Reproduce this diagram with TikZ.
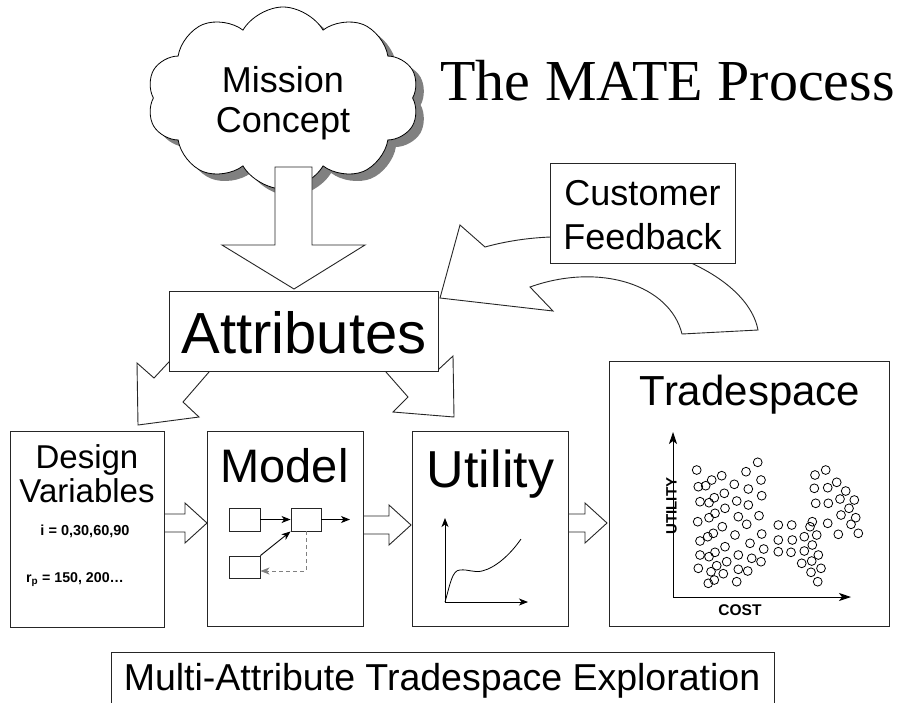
\documentclass[tikz,border=0pt]{standalone}
\usepackage{fontspec}
\setmainfont{Liberation Sans}
\newfontfamily\titlefont{Liberation Serif}
\usetikzlibrary{shapes.symbols,arrows.meta}
\newcommand\HArrow[3]{\draw[blockarrow] (#1,#3-9) -- (#2-22,#3-9) -- (#2-22,#3-20) -- (#2,#3) -- (#2-22,#3+20) -- (#2-22,#3+9) -- (#1,#3+9) -- cycle;}
\newcommand\fs[1]{\fontsize{#1}{#1}\selectfont}
\begin{document}
\begin{tikzpicture}[x=1pt,y=-1pt,
  line width=0.9pt,
  boxstyle/.style={draw=black!85, fill=white, line width=0.9pt, inner sep=0pt},
  txt/.style={inner sep=0pt, anchor=base},
  blockarrow/.style={draw=black!85, fill=white, line width=0.9pt, line join=miter},
  tip/.style={-{Stealth[length=9pt,width=7pt,inset=2.5pt]}},
  bigtip/.style={-{Stealth[length=12pt,width=8pt,inset=3pt]}},
  dot/.style={circle, draw=black, line width=0.8pt, minimum size=8.8pt, inner sep=0pt}
]
\useasboundingbox (0,0) rectangle (904,702);
\fill[white] (0,0) rectangle (904,702);

% cloud
\node[cloud, cloud puffs=10, cloud puff arc=120, aspect=1.5, minimum width=272pt, minimum height=182pt, fill=black!50, draw=none] (cloudshadow) at (291,105) {};
\node[cloud, cloud puffs=10, cloud puff arc=120, aspect=1.5, minimum width=272pt, minimum height=182pt, fill=white, draw=black, line width=0.8pt] (cloud) at (283,98) {};
\node[txt, font=\fs{36}] (mission1) at (283,92) {Mission};
\node[txt, font=\fs{36}] (mission2) at (283,132) {Concept};

% title
\node[inner sep=0pt, anchor=base west, font=\titlefont\fs{58}] (title) at (440,100) {The MATE Process};

% down arrow from cloud to attributes
\draw[blockarrow] (275,167) -- (275,245) -- (222,245) -- (294,289) -- (365,245) -- (312,245) -- (312,167) -- cycle;

% feedback arrow
\draw[blockarrow] (758,330) .. controls (745,262) and (600,215) .. (485,247) -- (460,225) -- (440,298) -- (553,311) -- (530,287) .. controls (600,262) and (670,285) .. (682,334) -- cycle;

% attribute arrows
\draw[blockarrow] (181,349) -- (154,378) -- (137,363) -- (138,425) -- (199,417) -- (183,402) -- (224.6,354) -- cycle;
\draw[blockarrow] (375,359.5) -- (408,397) -- (393,412) -- (454,417) -- (453,356) -- (439,369) -- (428,356.5) -- cycle;

% block arrows between boxes
\HArrow{160}{207}{523}
\HArrow{359}{411}{525}
\HArrow{564}{607}{523}

% boxes
\node[boxstyle, minimum width=185pt, minimum height=100pt] (cust) at (642.5,213) {};
\node[txt, font=\fs{36}] (cust1) at (642.5,205) {Customer};
\node[txt, font=\fs{36}] (cust2) at (642.5,249) {Feedback};

\node[boxstyle, minimum width=269pt, minimum height=80pt] (attr) at (303.5,331) {};
\node[txt, font=\fs{58}] (attrtxt) at (304,353) {Attributes};

\node[boxstyle, minimum width=154pt, minimum height=196pt] (dv) at (87,529) {};
\node[txt, font=\fs{33}] (dv1) at (87,468) {Design};
\node[txt, font=\fs{33}] (dv2) at (87,502) {Variables};
\node[txt, font=\bfseries\fs{14.5}] (dv3) at (85,535) {i = 0,30,60,90};
\node[txt, font=\bfseries\fs{14.2}] (dv4) at (75,582) {r\textsubscript{p} = 150, 200…};

\node[boxstyle, minimum width=156pt, minimum height=195pt] (model) at (285,528.5) {};
\node[txt, font=\fs{47}] (modeltxt) at (284.5,482) {Model};
\node[boxstyle, minimum width=31pt, minimum height=23pt] (mb1) at (244.5,519.5) {};
\node[boxstyle, minimum width=30pt, minimum height=23pt] (mb2) at (306,519.5) {};
\node[boxstyle, minimum width=31pt, minimum height=22pt] (mb3) at (244.5,567) {};
\coordinate (mout) at (350,519.5);
\draw[tip] (mb1.east) -- (mb2.west);
\draw[tip] (mb2.east) -- (mout);
\draw[tip] (mb3.north east) -- (mb2.south west);
\draw[tip, black!50, dash pattern=on 4pt off 3pt] (mb2.south) |- ([yshift=-4pt]mb3.east);

\node[boxstyle, minimum width=156pt, minimum height=195pt] (util) at (490,528.5) {};
\node[txt, font=\fs{52}] (utiltxt) at (490.5,487) {Utility};
\coordinate (uo) at (445,602);
\coordinate (uy) at (445,518);
\coordinate (ux) at (528,602);
\draw[tip] (uo) -- (uy);
\draw[tip] (uo) -- (ux);
\draw[line width=0.8pt] (uo) .. controls (450,585) and (452,570) .. (460,570) .. controls (468,569) and (474,573) .. (482,571) .. controls (495,568) and (510,555) .. (521,539);

\node[boxstyle, minimum width=280pt, minimum height=265pt] (trade) at (749,493.5) {};
\node[txt, font=\fs{42}] (tradetxt) at (750,405) {Tradespace};
\coordinate (to) at (673,597);
\coordinate (ty) at (673,432);
\coordinate (tx) at (851,597);
\draw[bigtip] (to) -- (ty);
\draw[bigtip] (to) -- (tx);
\node[inner sep=0pt, rotate=90, font=\bfseries\fs{15}] (ulab) at (671.5,506) {UTILITY};
\node[txt, font=\bfseries\fs{15.5}] (clab) at (740,615) {COST};

\foreach \x/\y [count=\n] in {
696.7/470, 757.7/462.3, 746/471.7, 721.7/475.7, 711.7/480, 705.7/485.7, 698.3/486.7, 761/480,
734.3/484.3, 748.3/489, 724.3/493.3, 714.3/497.7, 700/501.7, 709/502.7, 761.7/495.7, 736.7/501,
748.3/505, 725/508.3, 715/513.3, 709/517.7, 697.7/521.7, 759/515.7, 738.3/516.7, 746.7/524.3,
722.3/526.7, 713.3/533.3, 707.7/536.7, 700/541, 735/535, 761.7/534, 725/546.7, 750/543.3,
763.7/549, 715/552.3, 709/556.7, 700/555, 738.3/555, 751.7/558.3, 726.7/561.7, 761/561.7,
716.7/565.7, 698.3/568.3, 711/571.7, 723.3/573.7, 738.3/569.3, 747.7/571, 714.3/580, 708.3/583.3,
736.7/581.7,
825.7/470, 815/475, 836.7/482.3, 814.3/488.3, 827.7/487.7, 845.7/491, 840/499, 854.3/500,
815.7/503.3, 828.3/503.3, 849/508.3, 841/515, 855.7/517.7, 812.3/521.7, 827.7/523.3, 810/526.7,
851/524.3, 778.3/525, 791.7/525, 858.3/533.3, 838.3/534.3, 816.7/535, 804.3/536.7, 778.3/540,
792.3/540, 812.3/545, 804.3/551, 778.3/551.7, 791/552.3, 818.3/555, 811.7/561, 801.7/563.3,
821/568.3, 811/572.3, 817.7/581.7}
  \node[dot] (d\n) at (\x,\y) {};

% bottom box
\node[boxstyle, minimum width=663pt, minimum height=90pt, anchor=north west] (bottom) at (111,652) {};
\node[txt, font=\fs{37.5}] (bottomtxt) at (442,690) {Multi-Attribute Tradespace Exploration};
\end{tikzpicture}
\end{document}
